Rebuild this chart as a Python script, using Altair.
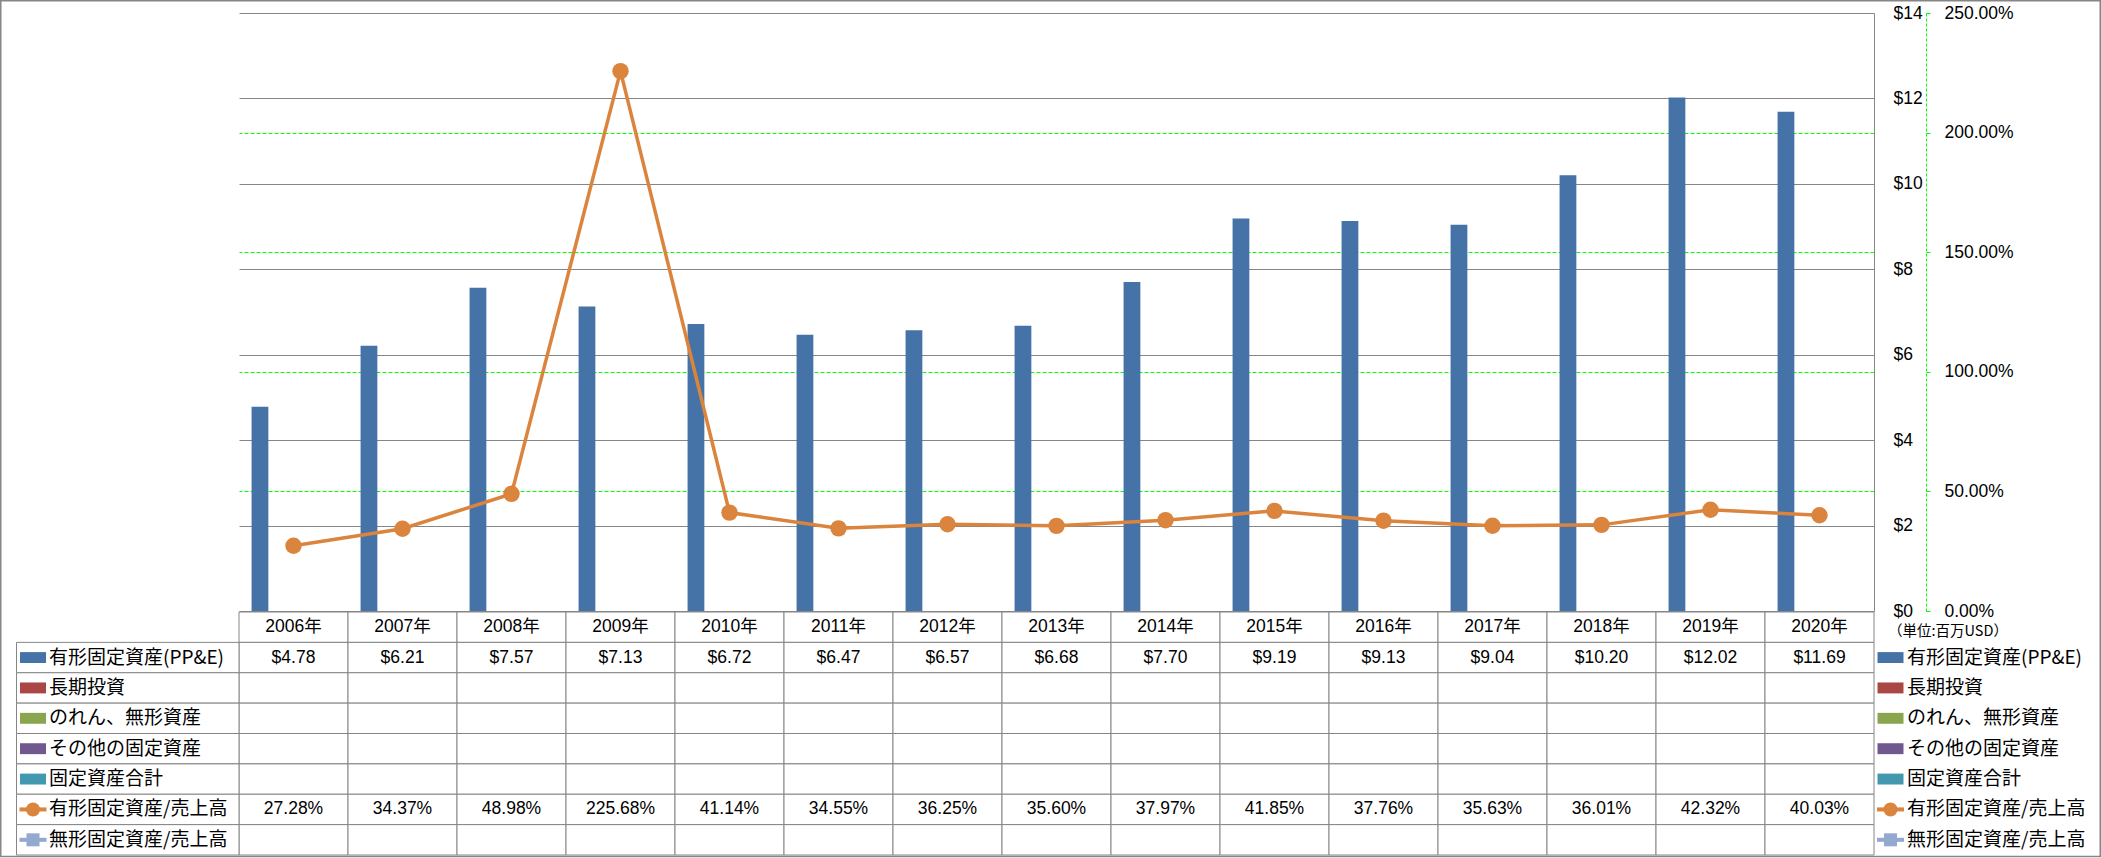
import altair as alt
import pandas as pd

# ---------------- data ----------------
years = [f"{y}年" for y in range(2006, 2021)]
ppe = [4.78, 6.21, 7.57, 7.13, 6.72, 6.47, 6.57, 6.68, 7.70, 9.19, 9.13, 9.04, 10.20, 12.02, 11.69]
ppe_ratio = [27.28, 34.37, 48.98, 225.68, 41.14, 34.55, 36.25, 35.60, 37.97, 41.85, 37.76, 35.63, 36.01, 42.32, 40.03]
bar_series = ["有形固定資産(PP&E)", "長期投資", "のれん、無形資産", "その他の固定資産", "固定資産合計"]
line_series = ["有形固定資産/売上高", "無形固定資産/売上高"]
series_colors = ["#4572A7", "#AA4643", "#89A54E", "#71588F", "#4198AF", "#DB843D", "#93A9CF"]
usd_ticks = [0, 2, 4, 6, 8, 10, 12, 14]
pct_ticks = [0, 0.5, 1.0, 1.5, 2.0, 2.5]
unit_label = "（単位:百万USD）"

# ---------------- style ----------------
GRAY = "#868686"
GREEN = "#00FF00"
NUM_FONT = "Liberation Sans, Noto Sans CJK JP"
JP_FONT = "Noto Sans CJK JP"
W = 1635
H_TOP = 598
H_TAB = 243
HEADER = "header"
rows = [HEADER] + bar_series + line_series

bar_df = pd.DataFrame({"year": years, "series": bar_series[0], "value": ppe})
ratio_df = pd.DataFrame({"year": years, "series": line_series[0],
                         "ratio": [v / 100 for v in ppe_ratio]})

x_scale = alt.Scale(domain=years, paddingInner=1.5 / 6.5, paddingOuter=0.75 / 6.5)

bars = alt.Chart(bar_df).mark_bar(color=series_colors[0]).encode(
    x=alt.X("year:N", scale=x_scale, axis=None),
    xOffset=alt.XOffset("series:N", scale=alt.Scale(domain=bar_series)),
    y=alt.Y("value:Q", scale=alt.Scale(domain=[0, 14], nice=False),
            axis=alt.Axis(orient="right", values=usd_ticks, labelExpr="'$' + datum.value",
                          grid=True, gridColor=GRAY, gridWidth=1,
                          domain=True, domainColor=GRAY, domainWidth=1,
                          ticks=False, tickSize=0, labelPadding=19,
                          labelFont=NUM_FONT, labelFontSize=17.5, labelColor="black",
                          title=None)),
)

line_base = alt.Chart(ratio_df).encode(
    x=alt.X("year:N", scale=x_scale, axis=None),
    y=alt.Y("ratio:Q", scale=alt.Scale(domain=[0, 2.5], nice=False),
            axis=alt.Axis(orient="right", offset=52, values=pct_ticks, format=".2%",
                          grid=True, gridColor=GREEN, gridDash=[4, 2], gridWidth=1,
                          gridOpacity={"condition": {"test": "datum.value >= 2.49 || datum.value <= 0.01",
                                                     "value": 0}, "value": 1},
                          domain=True, domainColor=GREEN, domainDash=[3, 2], domainWidth=1,
                          ticks=True, tickColor=GREEN, tickSize=4, labelPadding=14,
                          labelFont=NUM_FONT, labelFontSize=17.5, labelColor="black",
                          title=None)),
)
line = line_base.mark_line(color=series_colors[5], strokeWidth=3.5)
points = line_base.mark_point(filled=True, size=270, color=series_colors[5], opacity=1)

top = alt.layer(bars, alt.layer(line, points)).resolve_scale(y="independent").properties(
    width=W, height=H_TOP)

# ---------------- table ----------------
tx = alt.X("year:N", scale=alt.Scale(domain=years, paddingInner=0, paddingOuter=0), axis=None)
ty_scale = alt.Scale(domain=rows, paddingInner=0, paddingOuter=0)

cells_df = pd.DataFrame([{"year": y, "row": r} for r in rows for y in years])
cells = alt.Chart(cells_df).mark_rect(fill="white", stroke=GRAY, strokeWidth=1).encode(
    x=tx, y=alt.Y("row:N", scale=ty_scale, axis=None))

legend_rows = bar_series + line_series
leg_df = pd.DataFrame({"row": legend_rows, "color": series_colors})
left_cells = alt.Chart(leg_df).mark_rect(fill="white", stroke=GRAY, strokeWidth=1).encode(
    x=alt.value(-222.5), x2=alt.value(0), y=alt.Y("row:N", scale=ty_scale, axis=None))

border = alt.Chart(pd.DataFrame({"k": [0]})).mark_rect(
    fill="transparent", stroke=GRAY, strokeWidth=1.5).encode(
    x=alt.value(-238.25), x2=alt.value(1861.25), y=alt.value(-611.25), y2=alt.value(244.5))

year_df = pd.DataFrame({"year": years, "row": HEADER})
year_text = alt.Chart(year_df).mark_text(font=NUM_FONT, fontSize=17.5, color="black").encode(
    x=tx, y=alt.Y("row:N", scale=ty_scale, axis=None), text="year:N")

ppe_tab = pd.DataFrame({"year": years, "row": bar_series[0], "value": ppe})
ppe_text = alt.Chart(ppe_tab).mark_text(font=NUM_FONT, fontSize=17.5, color="black").encode(
    x=tx, y=alt.Y("row:N", scale=ty_scale, axis=None),
    text=alt.Text("value:Q", format="$.2f"))

ratio_tab = pd.DataFrame({"year": years, "row": line_series[0], "ratio": [v / 100 for v in ppe_ratio]})
ratio_text = alt.Chart(ratio_tab).mark_text(font=NUM_FONT, fontSize=17.5, color="black").encode(
    x=tx, y=alt.Y("row:N", scale=ty_scale, axis=None),
    text=alt.Text("ratio:Q", format=".2%"))

RECT_KEY = "M-1,-0.42H1V0.42H-1Z"
LINE_KEY = "M-1,-0.15H1V0.15H-1Z"

bar_leg = leg_df[leg_df["row"].isin(bar_series)]
line_leg = leg_df[leg_df["row"].isin(line_series)]


def legend_layers(xc, xt):
    ly = alt.Y("row:N", scale=ty_scale, axis=None)
    k1 = alt.Chart(bar_leg).mark_point(shape=RECT_KEY, filled=True, size=676, opacity=1).encode(
        x=alt.value(xc), y=ly, color=alt.Color("color:N", scale=None))
    k2 = alt.Chart(line_leg).mark_point(shape=LINE_KEY, filled=True, size=729, opacity=1).encode(
        x=alt.value(xc), y=ly, color=alt.Color("color:N", scale=None))
    k3 = alt.Chart(line_leg.iloc[[0]]).mark_point(shape="circle", filled=True, size=196, opacity=1).encode(
        x=alt.value(xc), y=ly, color=alt.Color("color:N", scale=None))
    k4 = alt.Chart(line_leg.iloc[[1]]).mark_point(shape="square", filled=True, size=169, opacity=1).encode(
        x=alt.value(xc), y=ly, color=alt.Color("color:N", scale=None))
    t = alt.Chart(leg_df).mark_text(font=JP_FONT, fontSize=19, align="left", color="black").encode(
        x=alt.value(xt), y=ly, text="row:N")
    return [k1, k2, k3, k4, t]


unit_df = pd.DataFrame({"row": [HEADER], "label": [unit_label]})
unit_text = alt.Chart(unit_df).mark_text(font=JP_FONT, fontSize=14.5, align="left", dy=5,
                                         color="black").encode(
    x=alt.value(W + 14), y=alt.Y("row:N", scale=ty_scale, axis=None), text="label:N")

table = alt.layer(
    border, cells, left_cells, year_text, ppe_text, ratio_text,
    *legend_layers(-206, -190), *legend_layers(W + 16.5, W + 33), unit_text,
).properties(width=W, height=H_TAB)

chart = alt.vconcat(top, table, spacing=1, bounds="flush").properties(
    padding=0, background="white"
).configure_view(strokeWidth=0)

chart.save("out.html", embed_options={"renderer": "svg", "actions": False})
